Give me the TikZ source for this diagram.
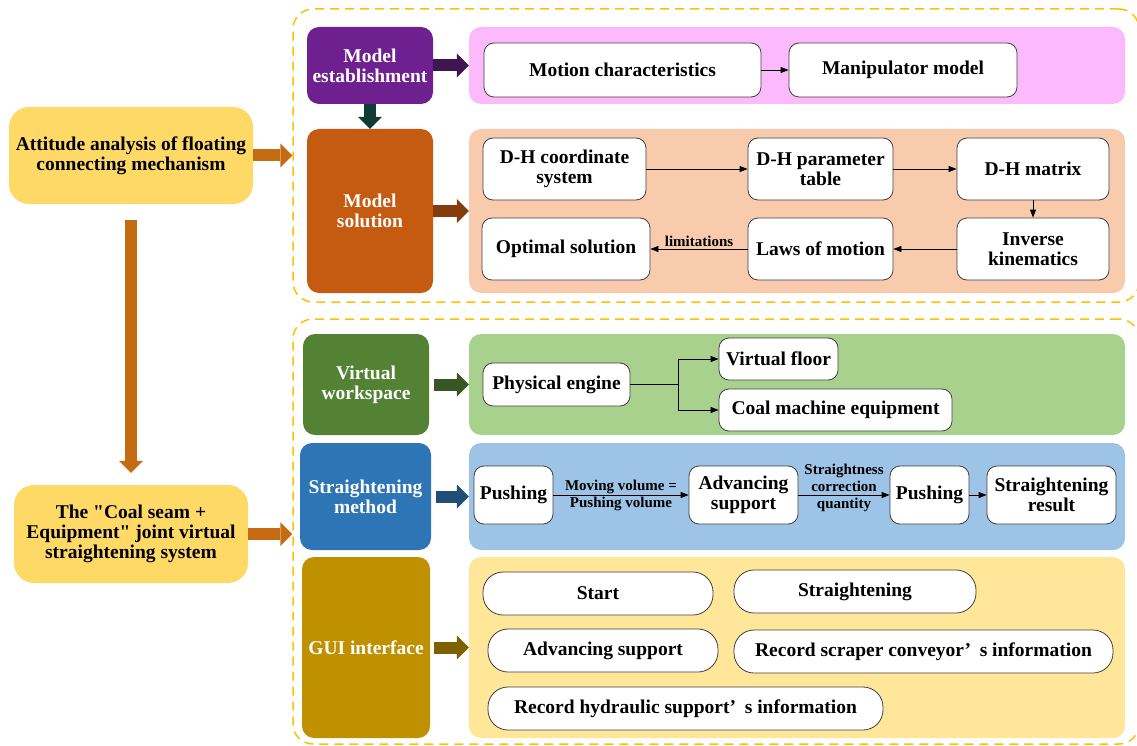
\documentclass[tikz,border=0pt]{standalone}
\usepackage{fontspec}
\setmainfont{Liberation Serif}
\newfontfamily\qfont{Liberation Serif}
\usetikzlibrary{arrows.meta}
\definecolor{leftyel}{HTML}{FFD966}
\definecolor{orangeA}{HTML}{C56C12}
\definecolor{dashc}{HTML}{FFC000}
\definecolor{meC}{HTML}{6E2090}
\definecolor{meA}{HTML}{3F1651}
\definecolor{tealA}{HTML}{0E3B34}
\definecolor{msC}{HTML}{C55A11}
\definecolor{msA}{HTML}{843C0C}
\definecolor{pinkP}{HTML}{FCBAFC}
\definecolor{peachP}{HTML}{F8CBAD}
\definecolor{vwC}{HTML}{548235}
\definecolor{vwA}{HTML}{375623}
\definecolor{greenP}{HTML}{A9D18E}
\definecolor{smC}{HTML}{2E75B6}
\definecolor{smA}{HTML}{1F4E79}
\definecolor{blueP}{HTML}{9DC3E6}
\definecolor{guiC}{HTML}{BF9000}
\definecolor{guiA}{HTML}{7F6000}
\definecolor{yelP}{HTML}{FFE699}
\definecolor{boxgray}{HTML}{404040}
\newcommand{\sq}{{\qfont\bfseries"}}
\begin{document}
\begin{tikzpicture}[x=1pt,y=-1pt,
  big/.style={font=\fontsize{19.5}{20}\selectfont\bfseries, align=center, inner sep=0pt},
  lbl/.style={font=\fontsize{15}{17}\selectfont\bfseries, align=center, inner sep=1pt},
  leftbox/.style={big, fill=leftyel, rounded corners=20pt},
  colbox/.style={big, text=white, fill=#1, rounded corners=12pt},
  panel/.style={fill=#1, rounded corners=12pt, inner sep=0pt},
  dashbox/.style={draw=dashc, line width=1.5pt, dash pattern=on 9pt off 6pt, rounded corners=20pt, inner sep=0pt},
  wbox/.style={big, fill=white, draw=boxgray, line width=0.8pt, rounded corners=10pt},
  pill/.style={wbox, rounded corners=20pt},
  thinarr/.style={line width=0.8pt, -{Triangle[length=8pt,width=6pt]}},
  blockarrow/.style={draw=#1, line width=12pt, -{Triangle[length=12pt,width=24pt,line width=0pt]}}
]
\useasboundingbox (0,0) rectangle (1137,746);

% dashed frames
\node[dashbox, minimum width=846pt, minimum height=293pt] (d1) at (716,155.5) {};
\node[dashbox, minimum width=846pt, minimum height=425pt] (d2) at (716,531.5) {};

% left boxes
\node[leftbox, minimum width=244pt, minimum height=97pt] (att) at (131,155.5) {Attitude analysis of floating\\connecting mechanism};
\node[leftbox, minimum width=234pt, minimum height=98pt] (cs) at (131,534) {The \sq Coal seam +\\Equipment\sq\ joint virtual\\straightening system};

% coloured category boxes
\node[colbox=meC, minimum width=126pt, minimum height=77pt] (me) at (370,65.5) {Model\\establishment};
\node[colbox=msC, minimum width=126pt, minimum height=164pt] (ms) at (370,211) {Model\\solution};
\node[colbox=vwC, minimum width=126pt, minimum height=101pt] (vw) at (366,384.5) {Virtual\\workspace};
\node[colbox=smC, minimum width=131pt, minimum height=107pt] (sm) at (365.5,496.5) {Straightening\\method};
\node[colbox=guiC, minimum width=128pt, minimum height=181pt] (gui) at (366,647.5) {GUI interface};

% panels
\node[panel=pinkP, minimum width=656pt, minimum height=77pt] (pink) at (797,65.5) {};
\node[panel=peachP, minimum width=656pt, minimum height=164pt] (peach) at (797,211) {};
\node[panel=greenP, minimum width=656pt, minimum height=101pt] (green) at (797,384.5) {};
\node[panel=blueP, minimum width=656pt, minimum height=107pt] (blue) at (797,496.5) {};
\node[panel=yelP, minimum width=656pt, minimum height=181pt] (yel) at (797,647.5) {};

% pink panel
\node[wbox, minimum width=277pt, minimum height=54pt] (mc) at (622.5,70) {Motion characteristics};
\node[wbox, minimum width=228pt, minimum height=54pt] (mm) at (903,70) {Manipulator model};

% peach panel
\node[wbox, minimum width=163pt, minimum height=62pt] (dhc) at (564.5,169) {D-H coordinate\\system};
\node[wbox, minimum width=145pt, minimum height=62pt] (dhp) at (820.5,169) {D-H parameter\\table};
\node[wbox, minimum width=152pt, minimum height=62pt] (dhm) at (1033,169) {D-H matrix};
\node[wbox, minimum width=152pt, minimum height=62pt] (ik) at (1033,249) {Inverse\\kinematics};
\node[wbox, minimum width=145pt, minimum height=62pt] (lm) at (820.5,249) {Laws of motion};
\node[wbox, minimum width=168pt, minimum height=62pt] (os) at (566,249) {Optimal solution};

% green panel
\node[wbox, minimum width=147pt, minimum height=43pt] (pe) at (556.5,384.5) {Physical engine};
\node[wbox, minimum width=119pt, minimum height=42pt] (vf) at (778.5,359) {Virtual floor};
\node[wbox, minimum width=233pt, minimum height=42pt] (cme) at (835.5,410) {Coal machine equipment};

% blue panel
\node[wbox, minimum width=79pt, minimum height=58pt] (p1) at (513.5,495) {Pushing};
\node[wbox, minimum width=109pt, minimum height=58pt] (as) at (743.5,495) {Advancing\\support};
\node[wbox, minimum width=79pt, minimum height=58pt] (p2) at (929.5,495) {Pushing};
\node[wbox, minimum width=129pt, minimum height=58pt] (sr) at (1051.5,495) {Straightening\\result};

% yellow panel
\node[pill, minimum width=230pt, minimum height=43pt] (st) at (598,593.5) {Start};
\node[pill, minimum width=242pt, minimum height=43pt] (stg) at (855,591.5) {Straightening};
\node[pill, minimum width=230pt, minimum height=43pt] (adv) at (603,650.5) {Advancing support};
\node[pill, minimum width=379pt, minimum height=43pt] (rsc) at (923.5,651.5) {Record scraper conveyor’\hspace{0.45em}s information};
\node[pill, minimum width=395pt, minimum height=43pt] (rhs) at (685.5,708.5) {Record hydraulic support’\hspace{0.45em}s information};

% block arrows
\draw[blockarrow=orangeA] (att.east) -- (att.east -| d1.west);
\draw[blockarrow=orangeA, shorten <=16pt, shorten >=12pt] (att.south) -- (cs.north);
\draw[blockarrow=orangeA] (cs.east) -- (cs.east -| d2.west);
\draw[blockarrow=meA] (me.east) -- (pink.west);
\draw[blockarrow=tealA] (me.south) -- (ms.north);
\draw[blockarrow=msA] (ms.east) -- (peach.west);
\draw[blockarrow=vwA, shorten <=5pt] (vw.east) -- (vw.east -| green.west);
\draw[blockarrow=smA, shorten <=5pt] (sm.east) -- (sm.east -| blue.west);
\draw[blockarrow=guiA, shorten <=4pt] (gui.east) -- (gui.east -| yel.west);

% thin connectors
\draw[thinarr] (mc.east) -- (mm.west);
\draw[thinarr] (dhc.east) -- (dhp.west);
\draw[thinarr] (dhp.east) -- (dhm.west);
\draw[thinarr] (dhm.south) -- (ik.north);
\draw[thinarr] (ik.west) -- (lm.east);
\draw[thinarr] (lm.west) -- node[lbl, above, inner sep=2pt] {limitations} (os.east);
\draw[line width=0.8pt] (pe.east) -- ++(48,0) coordinate (j);
\draw[thinarr] (j) |- (vf.west);
\draw[thinarr] (j) |- (cme.west);
\draw[thinarr] (p1.east) -- node[lbl] {Moving volume =\\Pushing volume} (as.west);
\draw[thinarr] (as.east) -- node[lbl, yshift=7pt] {Straightness\\correction\\quantity} (p2.west);
\draw[thinarr] (p2.east) -- (sr.west);
\end{tikzpicture}
\end{document}
